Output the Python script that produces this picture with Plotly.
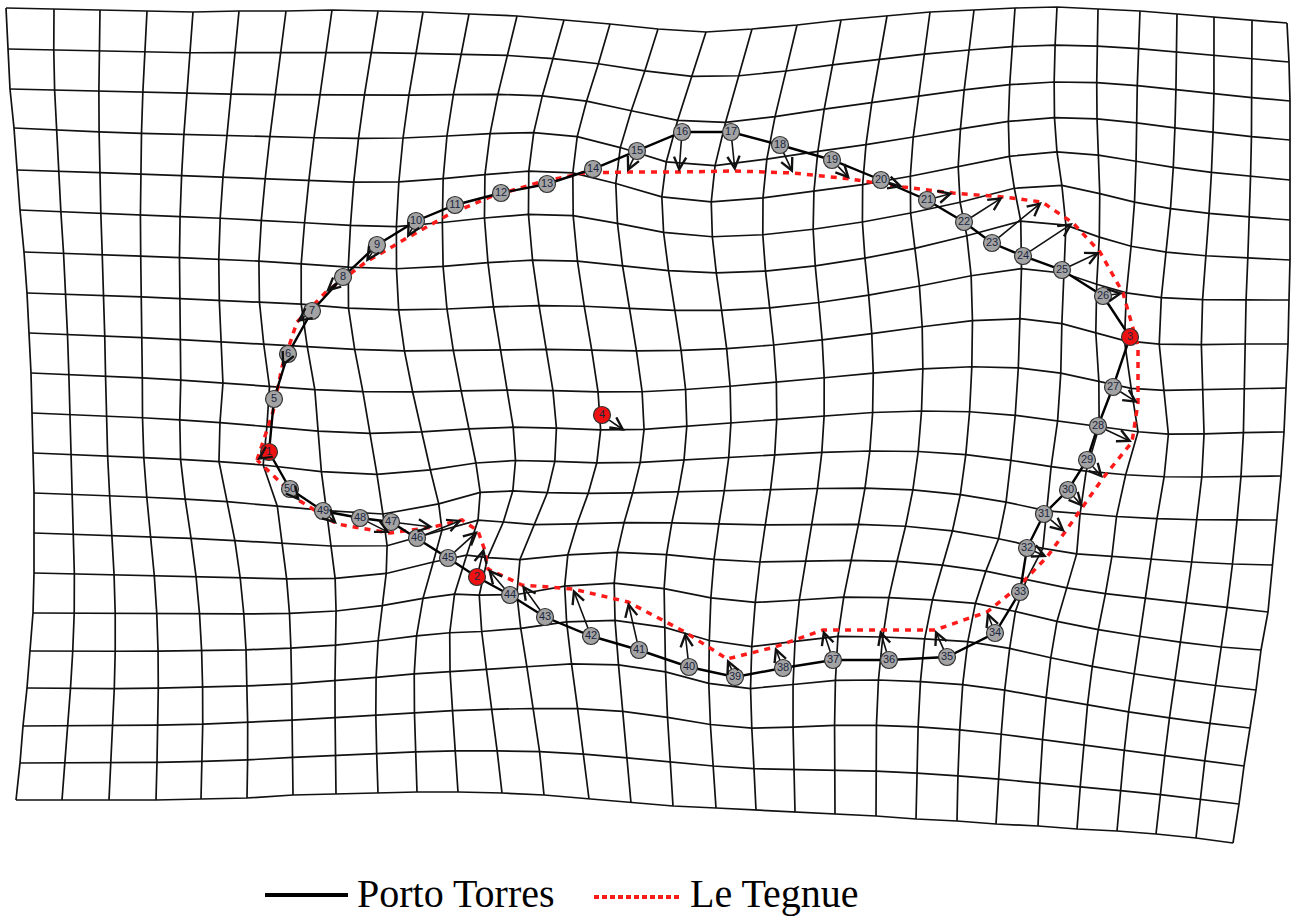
import numpy as np
import plotly.graph_objects as go

# Landmark coordinates, indexed by landmark number 1..50
porto_x = [269, 477, 1130, 602, 274, 288, 312, 343, 377, 416,
           455, 501, 547, 593, 637, 682, 731, 780, 832, 881,
           927, 964, 992, 1023, 1062, 1103, 1113, 1098, 1087, 1068,
           1044, 1027, 1020, 995, 947, 889, 833, 783, 735, 689,
           639, 591, 545, 510, 448, 417, 391, 360, 323, 290]
porto_y = [452, 577, 337, 415, 399, 354, 311, 277, 245, 221,
           205, 193, 184, 169, 151, 132, 132, 145, 160, 180,
           200, 222, 243, 256, 270, 296, 387, 426, 460, 490,
           514, 548, 592, 633, 657, 660, 660, 668, 677, 667,
           650, 636, 617, 595, 558, 538, 522, 518, 511, 489]
tegnue_x = [257, 484, 1138, 625, 273, 282, 297, 326, 366, 407,
            448, 490, 537, 583, 627, 679, 735, 793, 850, 903,
            953, 1003, 1042, 1073, 1100, 1123, 1138, 1132, 1103, 1083,
            1065, 1047, 1018, 987, 935, 880, 823, 775, 727, 685,
            628, 573, 522, 488, 478, 462, 433, 390, 337, 300]
tegnue_y = [460, 548, 346, 431, 412, 367, 322, 292, 262, 238,
            215, 197, 183, 173, 172, 172, 171, 173, 179, 187,
            193, 197, 202, 223, 252, 293, 403, 442, 478, 507,
            532, 557, 587, 612, 630, 630, 630, 647, 659, 632,
            602, 589, 585, 569, 531, 520, 527, 533, 524, 501]

# outline sequence (landmark 4 is an interior point)
outline = [1] + list(range(5, 27)) + [3] + list(range(27, 45)) + [2] + list(range(45, 51)) + [1]
highlight = [1, 2, 3, 4]

# deformed frame of the grid: node positions along its four edges
top_x = [6, 54, 100, 147, 193, 239, 286, 332, 378, 423, 469, 517, 564, 610, 658,
         706, 752, 797, 841, 887, 930, 974, 1015, 1057, 1098, 1140, 1177, 1214, 1252, 1287]
top_y = [8, 9, 10, 11, 12, 11, 11, 10, 11, 12, 14, 16, 20, 24, 29,
         32, 29, 25, 20, 16, 12, 10, 8, 7, 9, 11, 14, 17, 20, 23]
bottom_x = [16, 62, 109, 156, 201, 247, 293, 336, 378, 417, 458, 502, 544, 589, 631,
            673, 716, 756, 795, 835, 876, 916, 957, 996, 1038, 1077, 1117, 1156, 1196, 1233]
bottom_y = [800, 800, 800, 800, 799, 798, 795, 794, 793, 792, 792, 793, 795, 799, 803,
            806, 808, 810, 812, 814, 816, 819, 821, 824, 826, 829, 831, 834, 838, 843]
left_x = [6, 8, 10, 14, 17, 20, 24, 27, 29, 31, 32, 33, 34, 34, 34, 33, 30, 27, 23, 20, 16]
left_y = [8, 49, 89, 128, 170, 210, 252, 293, 333, 373, 413, 453, 493, 533, 573,
          613, 651, 688, 726, 763, 800]
right_x = [1287, 1289, 1290, 1290, 1290, 1290, 1290, 1289, 1288, 1286, 1284, 1281,
           1277, 1273, 1268, 1261, 1256, 1250, 1244, 1239, 1233]
right_y = [23, 62, 101, 140, 180, 220, 260, 300, 344, 388, 432, 476, 520, 565,
           612, 650, 690, 728, 766, 804, 843]

grid_cols = len(top_x)
grid_rows = len(left_y)
shape_weight = 0.85  # share of the landmark displacement carried by the grid

pts_src = np.column_stack([porto_x, porto_y]).astype(float)
pts_dst = pts_src + shape_weight * (np.column_stack([tegnue_x, tegnue_y]) - pts_src)

# undeformed frame
sx = np.linspace(6, 1289, grid_cols)
sy = np.linspace(8, 826, grid_rows)

frame_src, frame_dst = [], []
for c in range(grid_cols):
    frame_src.append((sx[c], sy[0]))
    frame_dst.append((top_x[c], top_y[c]))
    frame_src.append((sx[c], sy[-1]))
    frame_dst.append((bottom_x[c], bottom_y[c]))
for r in range(1, grid_rows - 1):
    frame_src.append((sx[0], sy[r]))
    frame_dst.append((left_x[r], left_y[r]))
    frame_src.append((sx[-1], sy[r]))
    frame_dst.append((right_x[r], right_y[r]))

src = np.vstack([pts_src, np.array(frame_src)]) / 1000.0
dst = np.vstack([pts_dst, np.array(frame_dst)]) / 1000.0


def kernel(a, b):
    d2 = ((a[:, None, :] - b[None, :, :]) ** 2).sum(-1)
    with np.errstate(divide="ignore", invalid="ignore"):
        k = np.where(d2 > 0, d2 * np.log(d2), 0.0)
    return k


def tps_fit(p, q):
    n = len(p)
    L = np.zeros((n + 3, n + 3))
    L[:n, :n] = kernel(p, p)
    P = np.hstack([np.ones((n, 1)), p])
    L[:n, n:] = P
    L[n:, :n] = P.T
    rhs = np.zeros((n + 3, 2))
    rhs[:n] = q
    return np.linalg.solve(L, rhs)


def tps_apply(p, coef, pts):
    n = len(p)
    return kernel(pts, p) @ coef[:n] + coef[n] + pts @ coef[n + 1:]


coef = tps_fit(src, dst)
GX, GY = np.meshgrid(sx, sy)
nodes = np.column_stack([GX.ravel(), GY.ravel()]) / 1000.0
warped = tps_apply(src, coef, nodes) * 1000.0
WX = warped[:, 0].reshape(grid_rows, grid_cols)
WY = warped[:, 1].reshape(grid_rows, grid_cols)

line_x, line_y = [], []
for r in range(grid_rows):
    line_x += list(WX[r]) + [None]
    line_y += list(WY[r]) + [None]
for c in range(grid_cols):
    line_x += list(WX[:, c]) + [None]
    line_y += list(WY[:, c]) + [None]

fig = go.Figure()
fig.add_trace(go.Scatter(x=line_x, y=line_y, mode="lines",
                         line=dict(color="#111111", width=1.7),
                         hoverinfo="skip", showlegend=False))

ox = [porto_x[i - 1] for i in outline]
oy = [porto_y[i - 1] for i in outline]
tx = [tegnue_x[i - 1] for i in outline]
ty = [tegnue_y[i - 1] for i in outline]
fig.add_trace(go.Scatter(x=tx, y=ty, mode="lines", name="Le Tegnue",
                         line=dict(color="#ff1a1a", width=3.5, dash="6px,6px"),
                         showlegend=False))
fig.add_trace(go.Scatter(x=ox, y=oy, mode="lines", name="Porto Torres",
                         line=dict(color="black", width=2.4),
                         showlegend=False))

# displacement vectors
for i in range(50):
    fig.add_annotation(x=tegnue_x[i], y=tegnue_y[i], ax=porto_x[i], ay=porto_y[i],
                       xref="x", yref="y", axref="x", ayref="y", text="",
                       showarrow=True, arrowhead=5, arrowsize=1.5, arrowwidth=1.6,
                       arrowcolor="#111111", startstandoff=7)

labels = [str(i) for i in range(1, 51)]
colors = ["#ee1111" if (i + 1) in highlight else "#a3a3a3" for i in range(50)]
fig.add_trace(go.Scatter(x=porto_x, y=porto_y, mode="markers+text", text=labels,
                         textposition="middle center",
                         textfont=dict(family="Liberation Sans", size=11, color="#1c2640"),
                         marker=dict(size=17, color=colors,
                                     line=dict(color="#333333", width=1.2)),
                         showlegend=False))

# key
fig.add_shape(type="line", x0=265, x1=348, y0=895, y1=895, xref="x", yref="y",
              line=dict(color="black", width=4))
fig.add_shape(type="line", x0=594, x1=681, y0=897, y1=897, xref="x", yref="y",
              line=dict(color="#ff1a1a", width=4, dash="5px,3px"))
fig.add_annotation(x=355, y=893, xref="x", yref="y", text="Porto Torres", showarrow=False,
                   xanchor="left", yanchor="middle",
                   font=dict(family="Liberation Serif", size=40, color="black"))
fig.add_annotation(x=688, y=893, xref="x", yref="y", text="Le Tegnue", showarrow=False,
                   xanchor="left", yanchor="middle",
                   font=dict(family="Liberation Serif", size=40, color="black"))

fig.update_layout(width=1298, height=916, autosize=False,
                  margin=dict(l=0, r=0, t=0, b=0),
                  paper_bgcolor="white", plot_bgcolor="white",
                  xaxis=dict(range=[0, 1298], visible=False, fixedrange=True),
                  yaxis=dict(range=[916, 0], visible=False, fixedrange=True))
fig.write_html("out.html")
